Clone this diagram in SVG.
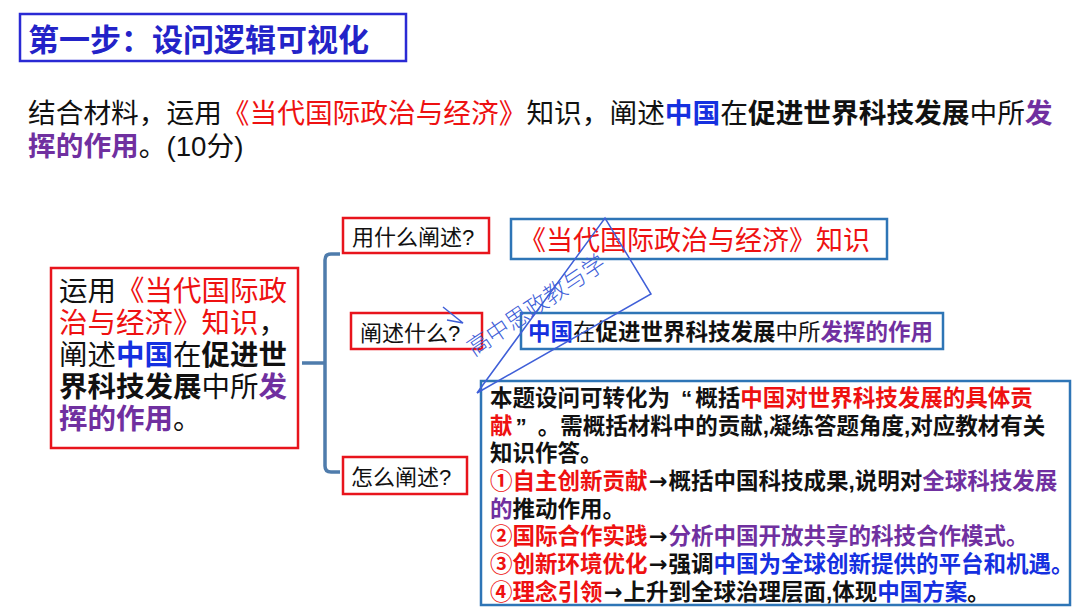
<svg xmlns="http://www.w3.org/2000/svg" width="1080" height="608" viewBox="0 0 1080 608">
<style>
.t{font-family:"Liberation Sans","Noto Sans CJK SC",sans-serif;fill:#111}
.b{font-weight:bold}
.r{fill:#ee1111}
.p{fill:#7030a0}
.u{fill:#1530e0}
.a{font-family:"DejaVu Sans","Noto Sans CJK SC",sans-serif}
.rb{fill:none;stroke:#e8141c;stroke-width:2.5}
.bb{fill:none;stroke:#2e75b6;stroke-width:2.5}
.wm{fill:none;stroke:#3f5fd8;stroke-width:1.5}
.q{font-size:27.7px}
.l{font-size:28.5px}
.s{font-size:22px}
.m{font-size:22.5px}
</style>
<rect width="1080" height="608" fill="#ffffff"/>
<g id="title">
<rect x="20" y="14" width="386" height="47" fill="none" stroke="#2a2ad4" stroke-width="2.5"/>
<text class="t b" x="28" y="51" font-size="31" style="fill:#2323c8">第一步：设问逻辑可视化</text>
</g>
<g id="question">
<text class="t q" x="28" y="123">结合材料，运用<tspan class="r">《当代国际政治与经济》</tspan>知识，阐述<tspan class="u b">中国</tspan>在<tspan class="b">促进世界科技发展</tspan>中所<tspan class="p b">发</tspan></text>
<text class="t q" x="28" y="156"><tspan class="p b">挥的作用</tspan>。(10分)</text>
</g>
<g id="connectors">
<path d="M340,254 H331 Q325,254 325,260 V466 Q325,472 331,472 H340 M302,363 H325" fill="none" stroke="#4f7cac" stroke-width="3.5"/>
</g>
<g id="left-box">
<rect x="51" y="268" width="247" height="180" class="rb"/>
<text class="t l" x="59" y="301">运用<tspan class="r">《当代国际政</tspan></text>
<text class="t l" x="59" y="333"><tspan class="r">治与经济》知识</tspan>，</text>
<text class="t l" x="59" y="365">阐述<tspan class="u b">中国</tspan>在<tspan class="b">促进世</tspan></text>
<text class="t l" x="59" y="397"><tspan class="b">界科技发展</tspan>中所<tspan class="p b">发</tspan></text>
<text class="t l" x="59" y="429"><tspan class="p b">挥的作用</tspan>。</text>
</g>
<g id="q1">
<rect x="343" y="218" width="146" height="35" class="rb"/>
<text class="t s" x="352" y="245">用什么阐述?</text>
</g>
<g id="q2">
<rect x="351" y="313" width="131" height="36" class="rb"/>
<text class="t s" x="360" y="341">阐述什么?</text>
</g>
<g id="q3">
<rect x="343" y="457" width="124" height="37" class="rb"/>
<text class="t s" x="351" y="485">怎么阐述?</text>
</g>
<g id="a1">
<rect x="511" y="219" width="376" height="40" class="bb"/>
<text class="t r" x="519" y="250" font-size="27">《当代国际政治与经济》知识</text>
</g>
<g id="a2">
<rect x="521" y="313" width="422" height="36" class="bb"/>
<text class="t m" x="528" y="340"><tspan class="u b">中国</tspan>在<tspan class="b">促进世界科技发展</tspan>中所<tspan class="p b">发挥的作用</tspan></text>
</g>
<g id="a3">
<rect x="481" y="381" width="589" height="224" class="bb"/>
<text class="t b m" x="490" y="406">本题设问可转化为<tspan dx="11">“</tspan><tspan dx="3">概括</tspan><tspan class="r">中国对世界科技发展的具体贡</tspan></text>
<text class="t b m" x="490" y="434"><tspan class="r">献</tspan><tspan dx="3">”</tspan><tspan dx="11">。需概括材料中的贡献,凝练答题角度,对应教材有关</tspan></text>
<text class="t b m" x="490" y="461">知识作答。</text>
<text class="t b m" x="490" y="489"><tspan class="r">①自主创新贡献</tspan><tspan class="a" dx="1">→</tspan><tspan dx="1">概括中国科技成果,说明对</tspan><tspan class="p">全球科技发展</tspan></text>
<text class="t b m" x="490" y="517"><tspan class="p">的</tspan>推动作用。</text>
<text class="t b m" x="490" y="544"><tspan class="r">②国际合作实践</tspan><tspan class="a" dx="1">→</tspan><tspan class="p" dx="1">分析中国开放共享的科技合作模式。</tspan></text>
<text class="t b m" x="490" y="572"><tspan class="r">③创新环境优化</tspan><tspan class="a" dx="1">→</tspan><tspan dx="1">强调</tspan><tspan class="u">中国为全球创新提供的平台和机遇。</tspan></text>
<text class="t b m" x="490" y="600"><tspan class="r">④理念引领</tspan><tspan class="a" dx="1">→</tspan><tspan dx="1">上升到全球治理层面,体现</tspan><tspan class="u">中国方案</tspan>。</text>
</g>
<g id="watermark">
<path class="wm" d="M477,393 L605,218 L651,294 Z M443,307 L463,323 L447,320"/>
<text x="0" y="0" transform="translate(474,357) rotate(-34)" font-family="Noto Sans CJK SC,sans-serif" font-weight="300" font-size="23" fill="#4060d8">高中思政教与学</text>
</g>
</svg>
